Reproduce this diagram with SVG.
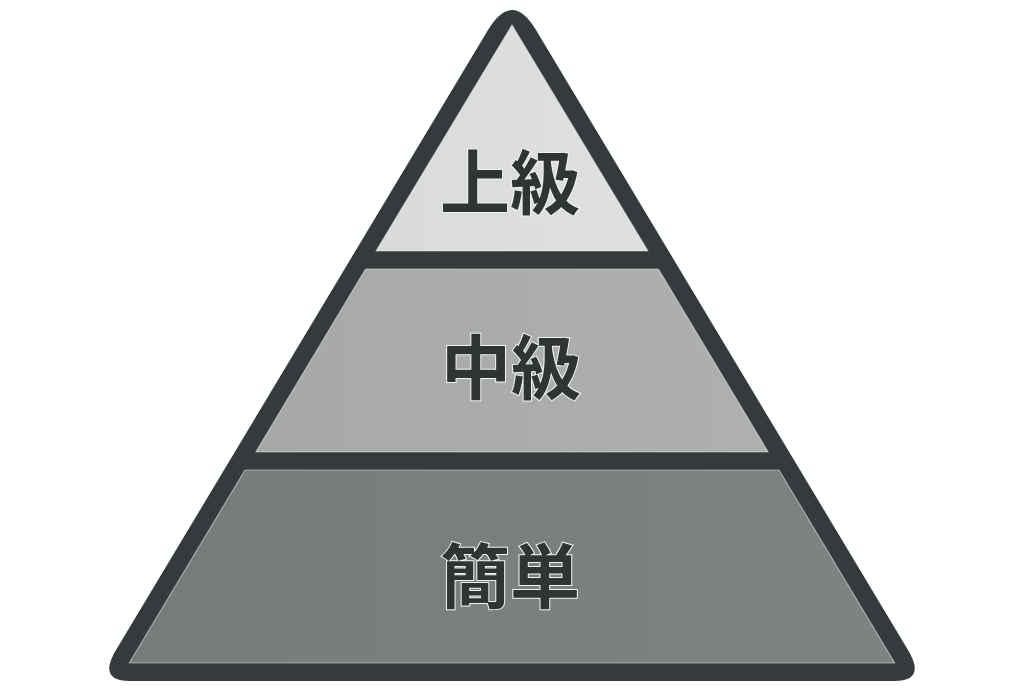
<svg xmlns="http://www.w3.org/2000/svg" width="1024" height="690" viewBox="0 0 1024 690">
<defs>
<style>
.lbl{font-family:"Noto Sans CJK JP","Noto Sans CJK SC",sans-serif;font-weight:700;font-size:70px;fill:#2f3435;stroke:#f2f2f2;stroke-width:2px;paint-order:stroke;text-anchor:middle;dominant-baseline:central}
.band{stroke:#ffffff;stroke-opacity:0.45;stroke-width:1.2;stroke-linejoin:round}
</style>
<linearGradient id="g1" x1="0" y1="0" x2="1" y2="0"><stop offset="0" stop-color="#d9dada"/><stop offset="1" stop-color="#dfe0e0"/></linearGradient>
<linearGradient id="g2" x1="0" y1="0" x2="1" y2="0"><stop offset="0" stop-color="#a7a9a9"/><stop offset="1" stop-color="#aeb0b0"/></linearGradient>
<linearGradient id="g3" x1="0" y1="0" x2="1" y2="0"><stop offset="0" stop-color="#777b7c"/><stop offset="1" stop-color="#7e8283"/></linearGradient>
</defs>
<rect width="1024" height="690" fill="#ffffff"/>
<g id="frame">
<path d="M488,30 Q512,-10 536,30 L908,650 Q926.6,681 894,681 L130,681 Q97.4,681 116,650 Z" fill="#353b3c"/>
</g>
<g id="level-top">
<polygon class="band" points="512,25 648,251 376,251" fill="url(#g1)"/>
<text class="lbl" x="510" y="178">上級</text>
</g>
<g id="level-middle">
<polygon class="band" points="365.6,269 658.4,269 768.2,452 255.8,452" fill="url(#g2)"/>
<text class="lbl" x="511" y="363">中級</text>
</g>
<g id="level-bottom">
<polygon class="band" points="245,470 779,470 894.8,663 129.2,663" fill="url(#g3)"/>
<text class="lbl" x="510" y="572">簡単</text>
</g>
<g id="connectors"></g>
</svg>
